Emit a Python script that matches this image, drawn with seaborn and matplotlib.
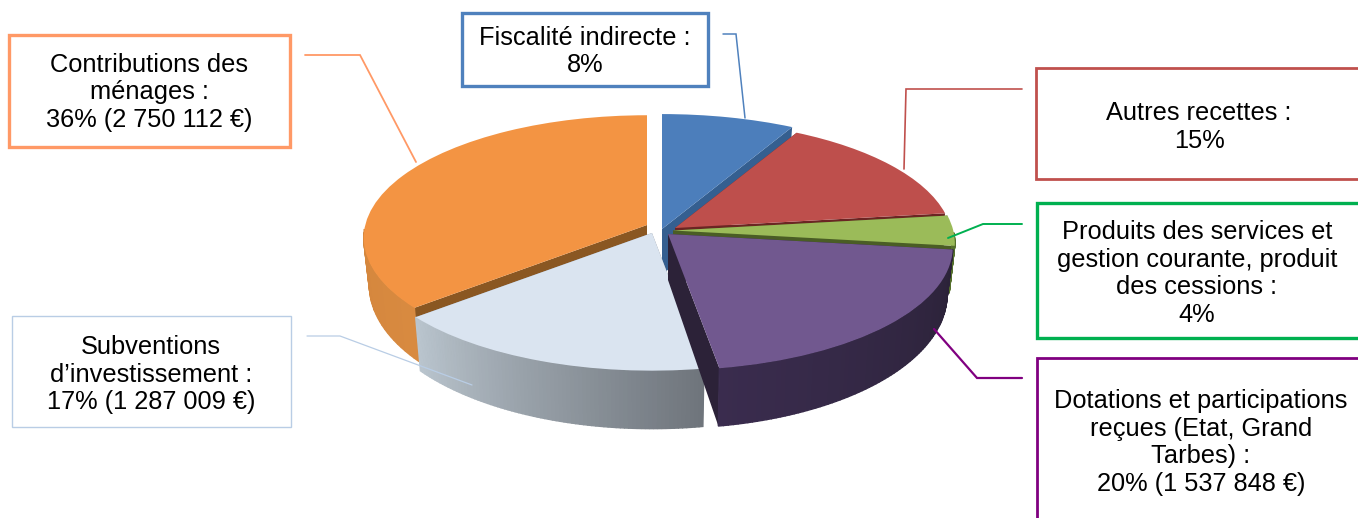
import numpy as np
import matplotlib
matplotlib.use('Agg')
from matplotlib import pyplot as plt
from matplotlib.patches import Rectangle
from matplotlib.transforms import Transform
import seaborn as sns

# donnees
values = [8, 15, 4, 20.4, 16.6, 36]
top_colors = ['#4C7EBB', '#BE4F4C', '#9BBB59', '#71588F', '#DAE4F0', '#F39443']
# degrade des parois, de gauche a droite
wall_from = ['#2F5D8F', '#7A2A28', '#55702D', '#3A2C4E', '#BAC5CE', '#D88A40']
wall_to = ['#2F5D8F', '#7A2A28', '#55702D', '#2B2238', '#6F757C', '#C97B33']
edge_colors = ['#355F90', '#6B2523', '#4A5D25', '#2C2238', '#8A8F96', '#8A5722']

label_texts = [
    'Fiscalité indirecte :\n8%',
    'Autres recettes :\n15%',
    'Produits des services et\ngestion courante, produit\ndes cessions :\n4%',
    'Dotations et participations\nreçues (Etat, Grand\nTarbes) :\n20% (1 537 848 €)',
    'Subventions\nd’investissement :\n17% (1 287 009 €)',
    'Contributions des\nménages :\n36% (2 750 112 €)',
]
box_colors = ['#4F81BD', '#C0504D', '#00B050', '#800080', '#B9CDE5', '#FF9966']

# position de chaque part (pointe en pixels, echelle) et ordre de dessin
tips = [(662, 229), (675, 228), (673, 230.5), (668, 234), (652, 233), (647, 225)]
scales = [1.0, 0.935, 0.95, 0.96, 0.97, 0.955]
draw_order = [0, 5, 1, 2, 4, 3]

# cadres : x, y, largeur, hauteur
boxes = [(462, 13, 246, 73), (1036, 68, 330, 111), (1037, 203, 330, 135),
         (1037, 358, 330, 170), (12, 316, 279, 111), (9, 35, 281, 112)]
box_widths = [2.4, 2.0, 2.4, 2.0, 1.0, 2.4]
text_xy = [(585, 51.5), (1199, 127), (1197, 273.5), (1201, 442.5), (151, 374.5), (149, 92.5)]
font_size = 18.3

leaders = [
    ([723, 736, 745], [34, 34, 118]),
    ([1022, 906, 904], [89, 89, 169]),
    ([1022, 983, 948], [224, 224, 238]),
    ([1022, 977, 934], [378, 378, 329]),
    ([307, 340, 472], [336, 336, 385]),
    ([305, 360, 416], [55, 55, 162]),
]
leader_widths = [1.1, 1.2, 1.4, 1.6, 0.9, 1.3]

RX, RY, PERSP = 295, 127, 0.105


class DiscView(Transform):
    # passe du disque unite de ax.pie a la vue en perspective
    input_dims = 2
    output_dims = 2

    def __init__(self, tip, scale, z=0.0):
        super().__init__()
        self.tip = tip
        self.scale = scale
        self.z = z

    def transform_non_affine(self, xy):
        xy = np.asarray(xy, dtype=float)
        u, v = xy[:, 0], -xy[:, 1]
        den = 1 - PERSP * v
        x = self.tip[0] + self.scale * RX * u / den * (1 - 0.02 * self.z)
        y = self.tip[1] + self.scale * RY * v / den + self.z * (46 + 12 * v)
        return np.column_stack([x, y])


sns.set_theme(style='white')
plt.rcParams['font.family'] = ['Liberation Sans', 'DejaVu Sans']

fig = plt.figure(figsize=(13.58, 5.18), dpi=100)
ax = fig.add_axes([0, 0, 1, 1])

wedges, _ = ax.pie(values, startangle=90, counterclock=False, radius=1,
                   colors=sns.color_palette(top_colors))
ax.set_aspect('auto')
ax.set_xlim(0, 1358)
ax.set_ylim(518, 0)
ax.axis('off')

for rank, i in enumerate(draw_order):
    w = wedges[i]
    top = DiscView(tips[i], scales[i], 0)
    low = DiscView(tips[i], scales[i], 1)
    base = 1 + rank * 2

    # parois radiales
    for th in (w.theta1, w.theta2):
        p = np.array([[0, 0], [np.cos(np.radians(th)), np.sin(np.radians(th))]])
        a, b = top.transform(p), low.transform(p)
        ax.fill([a[0, 0], a[1, 0], b[1, 0], b[0, 0]], [a[0, 1], a[1, 1], b[1, 1], b[0, 1]],
                color=edge_colors[i], lw=0, zorder=base)

    # paroi exterieure en bandes, pour le degrade
    th = np.radians(np.linspace(w.theta1, w.theta2, 80))
    rim = np.column_stack([np.cos(th), np.sin(th)])
    a, b = top.transform(rim), low.transform(rim)
    shades = sns.blend_palette([wall_from[i], wall_to[i]], len(th) - 1)
    if a[0, 0] > a[-1, 0]:
        # le degrade suit x, pas l'angle
        shades = shades[::-1]
    for k in range(len(th) - 1):
        # l'arriere du disque est cache par le dessus
        if np.sin(th[k]) > -0.02:
            continue
        ax.fill([a[k, 0], a[k + 1, 0], b[k + 1, 0], b[k, 0]],
                [a[k, 1], a[k + 1, 1], b[k + 1, 1], b[k, 1]],
                color=shades[k], lw=1.0, zorder=base)

    # dessus de la part
    w.set_transform(top + ax.transData)
    w.set_zorder(base + 1)
    w.set_edgecolor('none')

# traits de rappel et cadres
for i in range(len(values)):
    ax.plot(leaders[i][0], leaders[i][1], color=box_colors[i], lw=leader_widths[i],
            solid_joinstyle='miter', zorder=20)
    x, y, bw, bh = boxes[i]
    ax.add_patch(Rectangle((x, y), bw, bh, facecolor='white', edgecolor=box_colors[i],
                           lw=box_widths[i], zorder=21))
    ax.text(text_xy[i][0], text_xy[i][1], label_texts[i], ha='center', va='center',
            multialignment='center', fontsize=font_size, linespacing=1.19,
            color='black', zorder=22)

fig.savefig('out.png', dpi=100)
